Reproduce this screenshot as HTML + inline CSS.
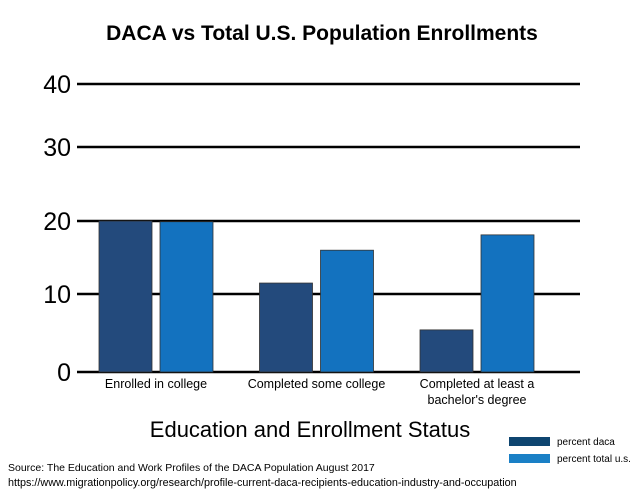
<!DOCTYPE html>
<html><head><meta charset="utf-8"><style>
body{margin:0;background:#fff;width:640px;height:492px;overflow:hidden;font-family:"Liberation Sans",sans-serif}
</style></head><body>
<svg width="640" height="492" xmlns="http://www.w3.org/2000/svg">
<text x="322" y="40" text-anchor="middle" font-size="21" font-weight="bold">DACA vs Total U.S. Population Enrollments</text>
<g id="grid"></g><g id="bars"></g><g id="xl"></g>
<text x="310" y="437" text-anchor="middle" font-size="22">Education and Enrollment Status</text>
<rect x="509" y="437" width="41" height="9" fill="#0e4570"/>
<text x="557" y="445" font-size="10">percent daca</text>
<rect x="509" y="454" width="41" height="9" fill="#1a80c6"/>
<text x="557" y="462" font-size="10">percent total u.s.</text>
<text x="8" y="471" font-size="10.5">Source: The Education and Work Profiles of the DACA Population August 2017</text>
<text x="8" y="486" font-size="10.8">https://www.migrationpolicy.org/research/profile-current-daca-recipients-education-industry-and-occupation</text>
</svg>
<script>
const categories=[["Enrolled in college"],["Completed some college"],["Completed at least a","bachelor's degree"]];
const daca=[20,11.5,5.4];
const total=[19.9,16,18.1];
const ticks=[0,10,20,30,40];
const NS="http://www.w3.org/2000/svg";
// piecewise axis through gridline positions of the reference
const yBreaks=[372,294,221,147,84];
function y(v){const i=Math.min(3,Math.max(0,Math.floor(v/10)));return yBreaks[i]+(yBreaks[i+1]-yBreaks[i])*(v-i*10)/10;}
function x(i){return 99+i*160.5;}
function mk(t,a,p){const e=document.createElementNS(NS,t);for(const k in a)e.setAttribute(k,a[k]);p.appendChild(e);return e;}
const g=document.getElementById('grid');
ticks.forEach(t=>{
 const l=mk('line',{x1:77,x2:580,y1:y(t),y2:y(t),stroke:'#000','stroke-width':2.5},g);
 
 
 const tx=mk('text',{x:71,y:y(t)+9,'text-anchor':'end','font-size':25},g);tx.textContent=t;
 
 
});
const b=document.getElementById('bars');const xl=document.getElementById('xl');
categories.forEach((c,i)=>{
 const r1=mk('rect',{x:x(i),y:y(daca[i]),width:53,height:y(0)-y(daca[i]),fill:'#234a7c',stroke:'#333','stroke-width':0.8},b);
 
 
 const r2=mk('rect',{x:x(i)+61,y:y(total[i]),width:53,height:y(0)-y(total[i]),fill:'#1372bf',stroke:'#333','stroke-width':0.8},b);
 
 
 c.forEach((s,j)=>{const t=mk('text',{x:x(i)+57,y:388+j*16,'text-anchor':'middle','font-size':12.5},xl);t.textContent=s;
 
 });
});
</script>
</body></html>
